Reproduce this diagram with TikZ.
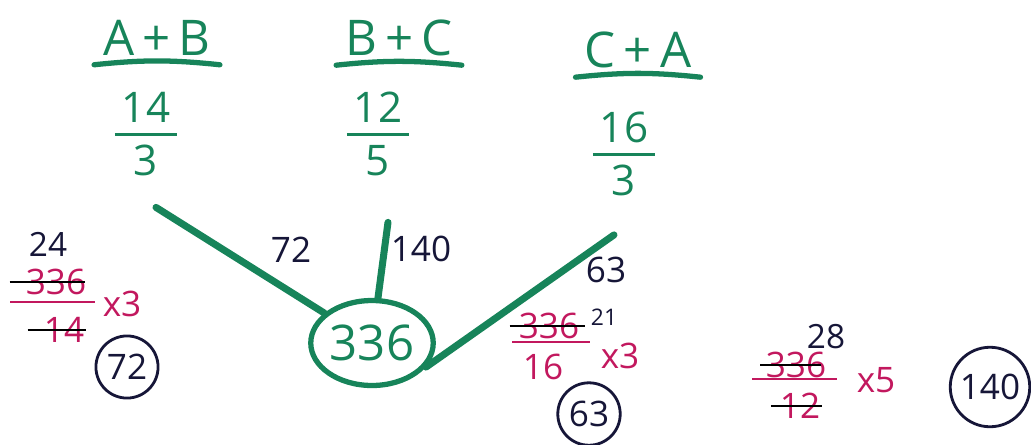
\documentclass[tikz,border=0pt]{standalone}
\usepackage{fontspec}
\setmainfont{Open Sans}
\usetikzlibrary{shapes.geometric, positioning}
\definecolor{penGreen}{HTML}{17845A}
\definecolor{penPink}{HTML}{C2185E}
\definecolor{penNavy}{HTML}{161638}

% stacked fraction with a thick bar
\newcommand{\hfrac}[2]{{\setlength{\arrayrulewidth}{1.8pt}%
  \begin{tabular}{@{\,}c@{\,}}#1\\[-2pt]\hline\rule{0pt}{0.95em}#2\end{tabular}}}

\begin{document}
\begin{tikzpicture}[x=0.02cm, y=-0.02cm,
    head/.style={text=penGreen, font=\fontsize{28}{30}\selectfont, inner sep=1pt},
    ufrac/.style={text=penGreen, font=\fontsize{24}{26}\selectfont, inner sep=0pt},
    branch/.style={draw=penGreen, line width=4pt, line cap=round},
    uline/.style={draw=penGreen, line width=3pt, line cap=round},
    lbl/.style={text=penNavy, font=\fontsize{20}{22}\selectfont, inner sep=1pt},
    pink/.style={text=penPink, font=\fontsize{20}{22}\selectfont, inner sep=1pt},
    small/.style={text=penNavy, font=\fontsize{19}{21}\selectfont, inner sep=1pt},
    tiny/.style={text=penNavy, font=\fontsize{13}{15}\selectfont, inner sep=0pt},
    strike/.style={draw=black, line width=1.3pt},
    pbar/.style={draw=penPink, line width=1.5pt},
    ring/.style={circle, draw=penNavy, line width=1.6pt, text=penNavy,
                 font=\fontsize{20}{22}\selectfont, inner sep=3pt},
  ]
    \useasboundingbox (0,0) rectangle (1031,444);

    % headers with underlines
    \node[head] (hAB) at (157,38) {A\,+\,B};
    \node[head] (hBC) at (399,38) {B\,+\,C};
    \node[head] (hCA) at (638,50) {C\,+\,A};
    \foreach \h in {hAB, hBC, hCA}{
      \draw[uline] ([xshift=-4pt, yshift=-4pt]\h.south west) to[bend left=6]
        ([xshift=4pt, yshift=-4pt]\h.south east);
    }

    % fractions
    \node[ufrac] (fAB) at (146,140) {\hfrac{14}{3}};
    \node[ufrac] (fBC) at (378,140) {\hfrac{12}{5}};
    \node[ufrac] (fCA) at (624,160) {\hfrac{16}{3}};

    % centre value
    \node[ellipse, draw=penGreen, line width=3pt, text=penGreen,
          font=\fontsize{28}{30}\selectfont, minimum width=2.45cm,
          minimum height=1.7cm, inner sep=0pt] (total) at (372,343) {336};

    % branches
    \draw[branch] ([xshift=0.2cm, yshift=-0.35cm]fAB.south) -- (total);
    \draw[branch] ([xshift=0.2cm, yshift=-0.65cm]fBC.south) -- (total);
    \draw[branch] ([xshift=-0.2cm, yshift=-0.5cm]fCA.south) -- (total.-24);

    % branch labels
    \node[lbl] (l72) at (291,250) {72};
    \node[lbl] (l140) at (421,249) {140};
    \node[lbl] (l63) at (606,270) {63};

    % working for A+B
    \node[small] (q24) at (48,244) {24};
    \node[pink] (nA) at (56,282) {336};
    \node[pink] (dA) at (64,330) {14};
    \node[pink] (mA) at (122,304) {x3};
    \draw[strike] ([xshift=-8pt]nA.west) -- ([xshift=-2pt]nA.east);
    \draw[strike] ([xshift=-8pt]dA.west) -- (dA.east);
    \draw[pbar] (10,302) -- (95,302);
    \node[ring] (rA) at (127,367) {72};

    % working for C+A
    \node[pink] (nC) at (549,326) {336};
    \node[tiny] (q21) at (604,317) {21};
    \node[pink] (dC) at (543,367) {16};
    \node[pink] (mC) at (620,356) {x3};
    \draw[strike] ([xshift=-4pt]nC.west) -- ([xshift=2pt]nC.east);
    \draw[pbar] (512,342) -- (590,342);
    \node[ring] (rC) at (589,414) {63};

    % working for B+C
    \node[small] (q28) at (826,337) {28};
    \node[pink] (nB) at (796,365) {336};
    \node[pink] (dB) at (800,406) {12};
    \node[pink] (mB) at (876,380) {x5};
    \draw[strike] ([xshift=-2pt]nB.west) -- ([xshift=-4pt]nB.east);
    \draw[pbar] (752,379) -- (837,379);
    \draw[strike] ([xshift=-4pt]dB.west) -- (dB.east);
    \node[ring] (rB) at (990,387) {140};
  \end{tikzpicture}
\end{document}
